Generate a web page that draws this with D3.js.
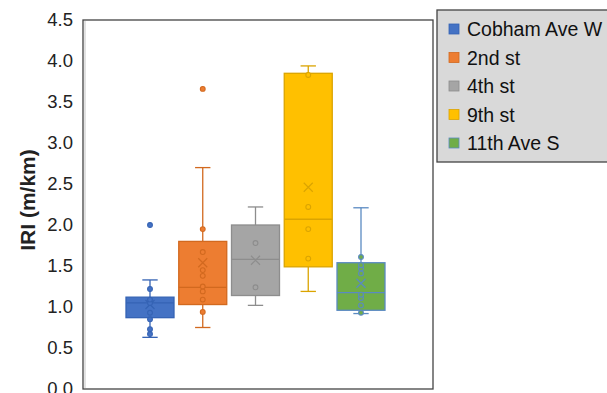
<!DOCTYPE html>
<html>
<head>
<meta charset="utf-8">
<script src="https://cdn.jsdelivr.net/npm/d3@7/dist/d3.min.js"></script>
<style>
  html, body { margin: 0; padding: 0; background: #fff; overflow: hidden; }
  svg { display: block; font-family: "Liberation Sans", Arial, sans-serif; }
</style>
</head>
<body>
<svg id="chart" width="607" height="393"></svg>
<script>
// Road sections (one box per section)
const series = ["Cobham Ave W", "2nd st", "4th st", "9th st", "11th Ave S"];
const fills   = ["#4472C4", "#ED7D31", "#A5A5A5", "#FFC000", "#70AD47"];
const strokes = ["#3563b4", "#d2691f", "#8d8d8d", "#dba400", "#5a8ac2"];

// Box statistics, IRI in m/km
const whiskerLow  = [0.63, 0.75, 1.02, 1.19, 0.92];
const q1          = [0.87, 1.03, 1.14, 1.49, 0.96];
const median      = [1.05, 1.24, 1.58, 2.07, 1.175];
const q3          = [1.12, 1.80, 2.00, 3.85, 1.54];
const whiskerHigh = [1.33, 2.70, 2.22, 3.94, 2.21];
const means       = [1.03, 1.54, 1.57, 2.46, 1.29];

// Individual measurements visible between the whisker caps, plus outliers
const pointsCobham = [0.67, 0.73, 0.85, 0.93, 1.05, 1.09, 1.22, 2.0];
const points2nd    = [0.94, 1.09, 1.19, 1.25, 1.38, 1.45, 1.67, 1.95, 3.66];
const points4th    = [1.24, 1.78];
const points9th    = [1.59, 1.95, 2.22, 3.83];
const points11th   = [0.93, 1.02, 1.11, 1.15, 1.41, 1.47, 1.51, 1.61];
const pointSets = [pointsCobham, points2nd, points4th, points9th, points11th];

const yTicks = [0, 0.5, 1.0, 1.5, 2.0, 2.5, 3.0, 3.5, 4.0, 4.5];
const yLabel = "IRI (m/km)";

const svg = d3.select("#chart");
const plot = { left: 83, right: 433, top: 20, bottom: 389 };

const y = d3.scaleLinear().domain([0, 4.5]).range([plot.bottom, plot.top]);
const x = d3.scaleBand().domain(series).range([126, 385]).paddingInner(0.09).paddingOuter(0);
const bw = x.bandwidth();
const capW = bw * 0.32;

// plot frame
svg.append("rect")
  .attr("x", plot.left).attr("y", plot.top)
  .attr("width", plot.right - plot.left).attr("height", plot.bottom - plot.top)
  .attr("fill", "#fff").attr("stroke", "#444").attr("stroke-width", 1.3);
svg.append("line")
  .attr("x1", plot.left + 2).attr("x2", plot.left + 2)
  .attr("y1", plot.top + 1).attr("y2", plot.bottom - 1)
  .attr("stroke", "#e2e2e2").attr("stroke-width", 2);

// y axis
const yAxis = svg.append("g")
  .attr("transform", `translate(${plot.left - 10},0)`)
  .call(d3.axisLeft(y).tickValues(yTicks).tickFormat(d3.format(".1f")).tickSize(0).tickPadding(0));
yAxis.select(".domain").remove();
yAxis.selectAll("text")
  .attr("font-size", 18.5).attr("fill", "#222")
  .style("font-family", "'Liberation Sans', Arial, sans-serif");

svg.append("text")
  .attr("transform", `translate(35,200) rotate(-90)`)
  .attr("text-anchor", "middle")
  .attr("font-size", 21).attr("font-weight", "bold").attr("fill", "#222")
  .text(yLabel);

// boxes
series.forEach((s, i) => {
  const g = svg.append("g");
  const x0 = x(s), cx = x0 + bw / 2;
  const col = strokes[i];

  // whiskers
  g.append("line").attr("x1", cx).attr("x2", cx)
    .attr("y1", y(q3[i])).attr("y2", y(whiskerHigh[i]))
    .attr("stroke", col).attr("stroke-width", 1.3);
  g.append("line").attr("x1", cx).attr("x2", cx)
    .attr("y1", y(q1[i])).attr("y2", y(whiskerLow[i]))
    .attr("stroke", col).attr("stroke-width", 1.3);
  [whiskerHigh[i], whiskerLow[i]].forEach(v => {
    g.append("line").attr("x1", cx - capW / 2).attr("x2", cx + capW / 2)
      .attr("y1", y(v)).attr("y2", y(v))
      .attr("stroke", col).attr("stroke-width", 1.3);
  });

  // box
  g.append("rect")
    .attr("x", x0).attr("y", y(q3[i]))
    .attr("width", bw).attr("height", y(q1[i]) - y(q3[i]))
    .attr("fill", fills[i]).attr("stroke", col).attr("stroke-width", 1.3);

  // median
  g.append("line").attr("x1", x0).attr("x2", x0 + bw)
    .attr("y1", y(median[i])).attr("y2", y(median[i]))
    .attr("stroke", col).attr("stroke-width", 1.3);

  // mean marker
  const my = y(means[i]), m = 4.5;
  g.append("path")
    .attr("d", `M${cx - m},${my - m}L${cx + m},${my + m}M${cx - m},${my + m}L${cx + m},${my - m}`)
    .attr("stroke", col).attr("stroke-width", 1.2).attr("fill", "none");

  // data points
  g.selectAll("circle").data(pointSets[i]).join("circle")
    .attr("cx", cx).attr("cy", d => y(d)).attr("r", 2.4)
    .attr("fill", fills[i]).attr("stroke", col).attr("stroke-width", 1.1);
});

// legend
const lg = svg.append("g");
lg.append("rect")
  .attr("x", 437).attr("y", 10).attr("width", 190).attr("height", 152)
  .attr("fill", "#d9d9d9").attr("stroke", "#444").attr("stroke-width", 1.3);
series.forEach((s, i) => {
  const ly = 29 + i * 28.5;
  lg.append("rect").attr("x", 449).attr("y", ly - 5).attr("width", 10).attr("height", 10)
    .attr("fill", fills[i]).attr("stroke", strokes[i]).attr("stroke-width", 0.8);
  lg.append("text").attr("x", 467).attr("y", ly).attr("dy", "0.36em")
    .attr("font-size", 19.5).attr("fill", "#111").text(s);
});
</script>
</body>
</html>
